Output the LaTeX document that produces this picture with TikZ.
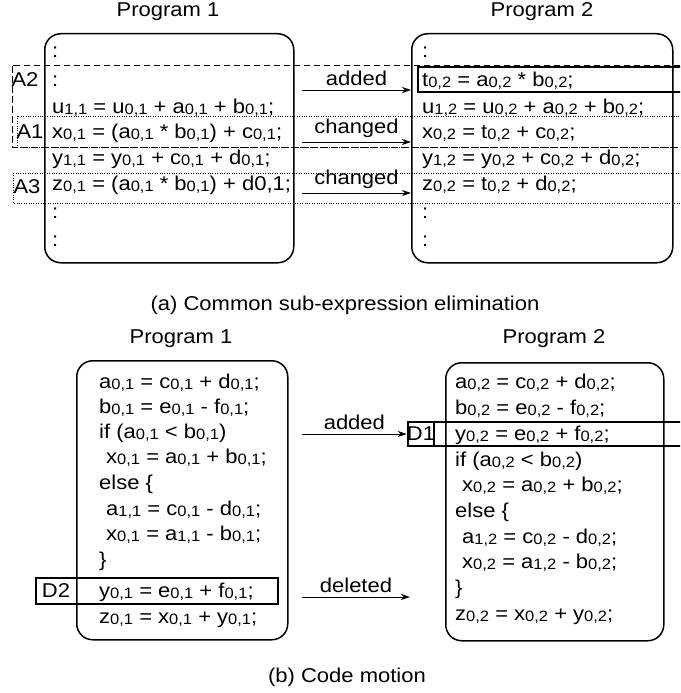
\documentclass[tikz,border=0pt]{standalone}
\usepackage{fontspec}
\setmainfont[FakeStretch=1.1]{Liberation Sans}
\usetikzlibrary{arrows.meta}
% small lowered index digits, e.g. a\ix{0,1}
\newcommand\ix[1]{\raisebox{-1.6pt}{\fontsize{15}{16}\selectfont #1}}
\begin{document}
\begin{tikzpicture}[x=1pt,y=-1pt,
  every node/.style={font=\fontsize{20}{24}\selectfont, inner sep=0pt},
  code/.style={anchor=base west},
  prog/.style={draw, line width=1.5pt, rounded corners=16pt, anchor=north west},
  arr/.style={line width=1pt, -{Stealth[length=9pt,width=6pt]}},
  dashbox/.style={line width=1pt, dash pattern=on 6.5pt off 3.5pt},
  dotbox/.style={line width=1pt, dash pattern=on 1pt off 1.4pt},
  rowbox/.style={line width=1.2pt},
  lbl/.style={above=4pt}]
\useasboundingbox (0,0) rectangle (680,693);
\clip (0,0) rectangle (680,693);

% ---------------- (a) common sub-expression elimination ----------------
\node (t1a) at (168,12) {Program 1};
\node (t2a) at (542,12) {Program 2};
\node[prog, minimum width=249pt, minimum height=229pt] (P1a) at (44,33) {};
\node[prog, minimum width=261pt, minimum height=229pt] (P2a) at (411,33) {};

% marked regions
\draw[dashbox] (12,66) rectangle (700,147);
\draw[dotbox] (17,116) rectangle (700,147);
\draw[dotbox] (13,173) rectangle (700,203);
\draw[rowbox] (418,67) rectangle (700,92);
\node (A2) at (25,80) {A2};
\node (A1) at (30,132) {A1};
\node (A3) at (27,187) {A3};

% program 1
\node[code] (a11) at (52,58) {:};
\node[code] (a12) at (52,86) {:};
\node[code] (a13) at (52,113) {u\ix{1,1} = u\ix{0,1} + a\ix{0,1} + b\ix{0,1};};
\node[code] (a14) at (52,138) {x\ix{0,1} = (a\ix{0,1} * b\ix{0,1}) + c\ix{0,1};};
\node[code] (a15) at (52,164) {y\ix{1,1} = y\ix{0,1} + c\ix{0,1} + d\ix{0,1};};
\node[code] (a16) at (52,190) {z\ix{0,1} = (a\ix{0,1} * b\ix{0,1}) + d0,1;};
\node[code] (a17) at (52,218) {:};
\node[code] (a18) at (52,246) {:};

% program 2
\node[code] (a21) at (422,58) {:};
\node[code] (a22) at (422,86) {t\ix{0,2} = a\ix{0,2} * b\ix{0,2};};
\node[code] (a23) at (422,113) {u\ix{1,2} = u\ix{0,2} + a\ix{0,2} + b\ix{0,2};};
\node[code] (a24) at (422,138) {x\ix{0,2} = t\ix{0,2} + c\ix{0,2};};
\node[code] (a25) at (422,164) {y\ix{1,2} = y\ix{0,2} + c\ix{0,2} + d\ix{0,2};};
\node[code] (a26) at (422,190) {z\ix{0,2} = t\ix{0,2} + d\ix{0,2};};
\node[code] (a27) at (422,218) {:};
\node[code] (a28) at (422,246) {:};

% transitions
\coordinate (sa1) at (302,90);
\coordinate (sa2) at (302,142);
\coordinate (sa3) at (302,193);
\draw[arr] (sa1) -- (sa1 -| P2a.west) node[midway, lbl] {added};
\draw[arr] (sa2) -- (sa2 -| P2a.west) node[midway, lbl] {changed};
\draw[arr] (sa3) -- (sa3 -| P2a.west) node[midway, lbl] {changed};

\node (capa) at (345,305) {(a) Common sub-expression elimination};

% ---------------- (b) code motion ----------------
\node (t1b) at (181,339) {Program 1};
\node (t2b) at (554,339) {Program 2};
\node[prog, minimum width=211pt, minimum height=279pt] (P1b) at (76,360) {};
\node[prog, minimum width=218pt, minimum height=278pt] (P2b) at (445,362) {};

% moved statement, old and new place
\draw[rowbox] (36,578) rectangle (278,604);
\node (D2) at (56,591) {D2};
\draw[rowbox] (408,422) rectangle (700,446);
\draw[rowbox] (434,422) -- (434,446);
\node[minimum width=26pt, minimum height=24pt] (D1) at (421,434) {D1};

% program 1
\node[code] (b11) at (99,388) {a\ix{0,1} = c\ix{0,1} + d\ix{0,1};};
\node[code] (b12) at (99,413) {b\ix{0,1} = e\ix{0,1} - f\ix{0,1};};
\node[code] (b13) at (99,438) {if (a\ix{0,1} < b\ix{0,1})};
\node[code] (b14) at (106,463) {x\ix{0,1} = a\ix{0,1} + b\ix{0,1};};
\node[code] (b15) at (99,489) {else \{};
\node[code] (b16) at (106,515) {a\ix{1,1} = c\ix{0,1} - d\ix{0,1};};
\node[code] (b17) at (106,540) {x\ix{0,1} = a\ix{1,1} - b\ix{0,1};};
\node[code] (b18) at (99,566) {\}};
\node[code] (b19) at (99,597) {y\ix{0,1} = e\ix{0,1} + f\ix{0,1};};
\node[code] (b110) at (99,623) {z\ix{0,1} = x\ix{0,1} + y\ix{0,1};};

% program 2
\node[code] (b21) at (455,388) {a\ix{0,2} = c\ix{0,2} + d\ix{0,2};};
\node[code] (b22) at (455,414) {b\ix{0,2} = e\ix{0,2} - f\ix{0,2};};
\node[code] (b23) at (455,440) {y\ix{0,2} = e\ix{0,2} + f\ix{0,2};};
\node[code] (b24) at (455,466) {if (a\ix{0,2} < b\ix{0,2})};
\node[code] (b25) at (462,491) {x\ix{0,2} = a\ix{0,2} + b\ix{0,2};};
\node[code] (b26) at (455,517) {else \{};
\node[code] (b27) at (462,543) {a\ix{1,2} = c\ix{0,2} - d\ix{0,2};};
\node[code] (b28) at (462,568) {x\ix{0,2} = a\ix{1,2} - b\ix{0,2};};
\node[code] (b29) at (455,594) {\}};
\node[code] (b210) at (455,620) {z\ix{0,2} = x\ix{0,2} + y\ix{0,2};};

% transitions
\coordinate (sb1) at (302,434);
\coordinate (sb2) at (302,597);
\coordinate (eb2) at (410,597);
\draw[arr] (sb1) -- (D1.west) node[midway, lbl] {added};
\draw[arr] (sb2) -- (eb2) node[midway, lbl] {deleted};

\node (capb) at (347,677) {(b) Code motion};
\end{tikzpicture}
\end{document}
